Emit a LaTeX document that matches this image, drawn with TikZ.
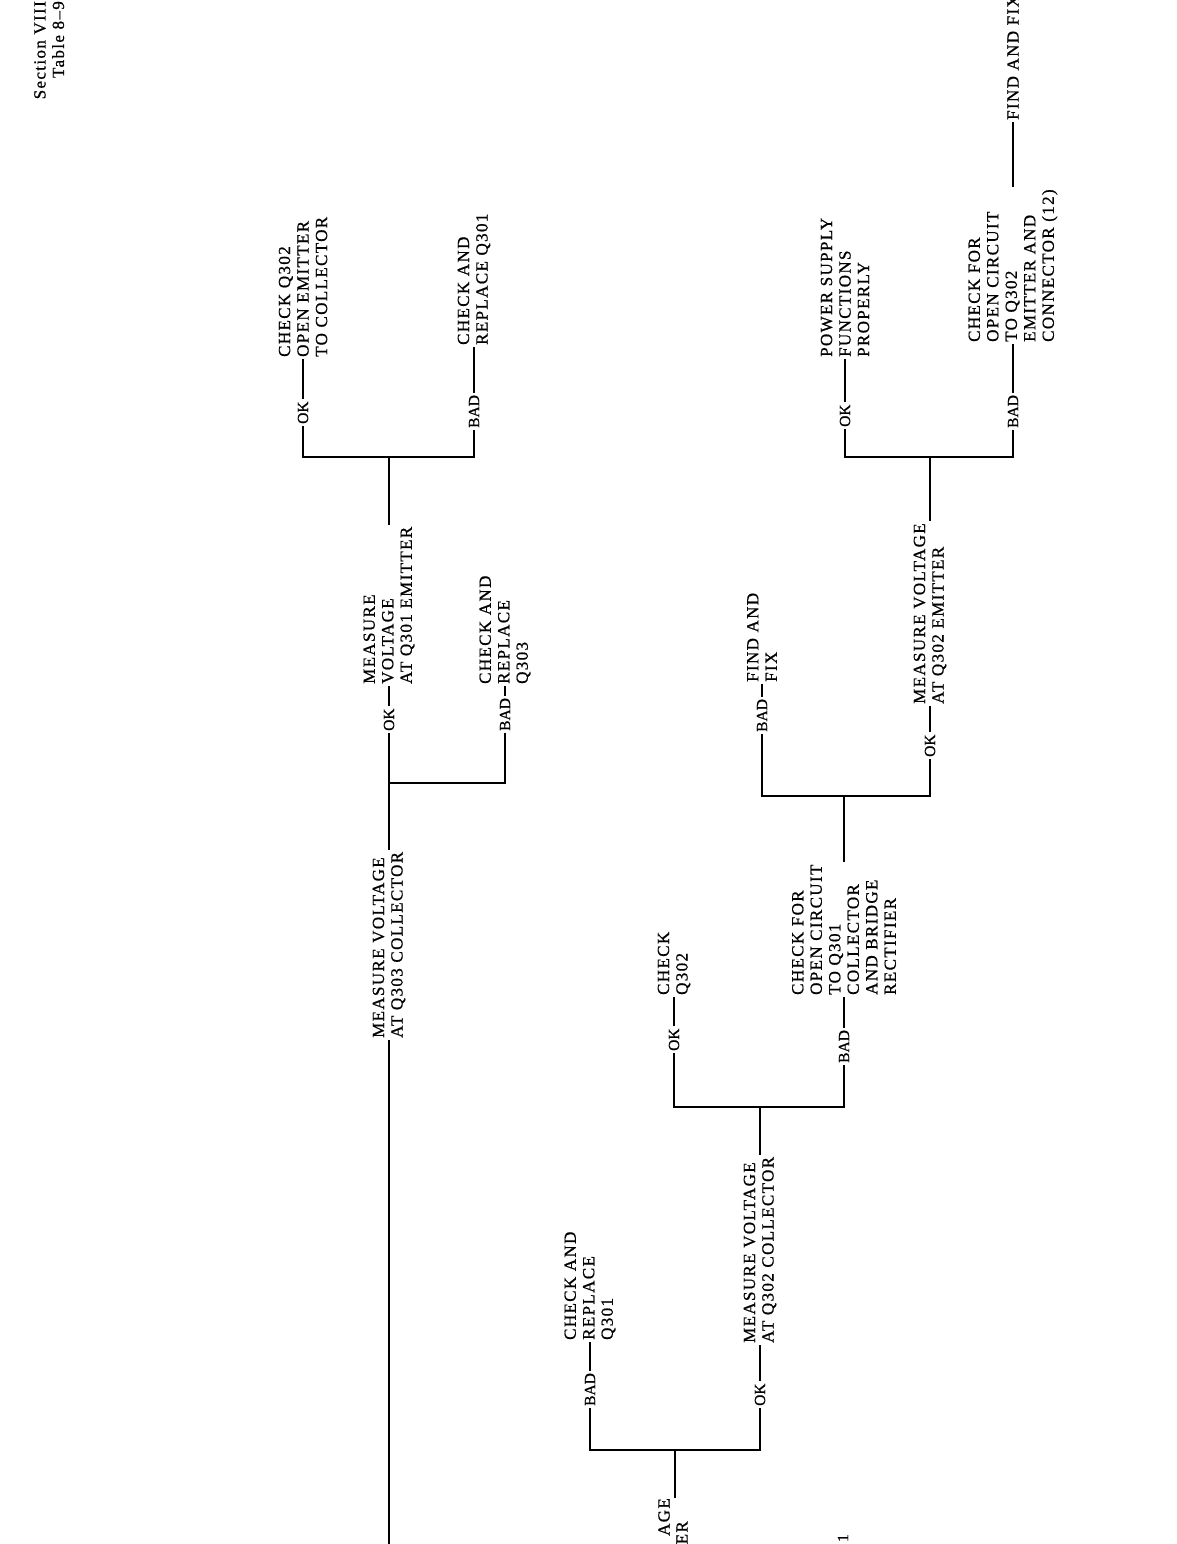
\documentclass[tikz,border=0pt]{standalone}
\usepackage{fontspec}
\setmainfont{Liberation Serif}[LetterSpace=8,FakeBold=0.8]
\begin{document}
\begin{tikzpicture}[x=1pt,y=-1pt,
  txt/.style={rotate=90, anchor=west, align=left, inner sep=2pt, font=\fontsize{17}{18.5}\selectfont},
  lbl/.style={rotate=90, anchor=west, inner sep=2pt, font=\fontsize{15.5}{18.5}\selectfont\addfontfeature{LetterSpace=0}},
  frag/.style={rotate=90, anchor=east, inner sep=0pt, font=\fontsize{17}{18.5}\selectfont},
  ln/.style={line width=2.8pt, line join=miter}]
\useasboundingbox (0,0) rectangle (1176,1544);
\clip (0,0) rectangle (1176,1544);

% header
\node[rotate=90, anchor=north east, align=right, inner sep=0pt, font=\fontsize{17}{18.5}\selectfont] (hdr) at (34,1) {Section VIII\\Table 8--9};

% trunk and Q303 collector
\coordinate (bot) at (389,1550);
\node[txt] (q303c) at (389,1040) {MEASURE VOLTAGE\\AT Q303 COLLECTOR};
\draw[ln] (bot) -- (q303c.west);
\coordinate (f1) at (389,783);
\node[lbl] (ok1) at (389,733) {OK};
\node[lbl] (bad1) at (505,733) {BAD};
\draw[ln] (q303c.east) -- (ok1.west);
\draw[ln] (f1) -- (f1 -| bad1.west) -- (bad1.west);
\node[txt] (t1) at (389,686) {MEASURE\\VOLTAGE\\AT Q301 EMITTER};
\node[txt] (t2) at (505,686) {CHECK AND\\REPLACE\\Q303};
\draw[ln] (ok1.east) -- (t1.west);
\draw[ln] (bad1.east) -- (t2.west);

% fork F2
\coordinate (f2) at (389,457);
\draw[ln] (t1.east) -- (f2);
\node[lbl] (ok2) at (303,426) {OK};
\node[lbl] (bad2) at (474,430) {BAD};
\draw[ln] (ok2.west) -- (ok2.west |- f2) -- (bad2.west |- f2) -- (bad2.west);
\node[txt] (t3) at (303,359) {CHECK Q302\\OPEN EMITTER\\TO COLLECTOR};
\node[txt] (t4) at (474,347) {CHECK AND\\REPLACE Q301};
\draw[ln] (ok2.east) -- (t3.west);
\draw[ln] (bad2.east) -- (t4.west);

% bottom-left fork F3
\node[frag] (fa) at (664,1498) {AGE};
\node[frag] (fb) at (682,1521) {ER};
\coordinate (f3) at (675,1450);
\draw[ln] (f3 |- fa.east) -- (f3);
\node[lbl] (bad3) at (590,1408) {BAD};
\node[lbl] (ok3) at (760,1408) {OK};
\draw[ln] (bad3.west) -- (bad3.west |- f3) -- (ok3.west |- f3) -- (ok3.west);
\node[txt] (t5) at (590,1342) {CHECK AND\\REPLACE\\Q301};
\node[txt] (t6) at (760,1345) {MEASURE VOLTAGE\\AT Q302 COLLECTOR};
\draw[ln] (bad3.east) -- (t5.west);
\draw[ln] (ok3.east) -- (t6.west);

% fork F4
\coordinate (f4) at (760,1107);
\draw[ln] (t6.east) -- (f4);
\node[lbl] (ok4) at (674,1053) {OK};
\node[lbl] (bad4) at (844,1065) {BAD};
\draw[ln] (ok4.west) -- (ok4.west |- f4) -- (bad4.west |- f4) -- (bad4.west);
\node[txt] (t7) at (674,997) {CHECK\\Q302};
\node[txt] (t8) at (844,997) {CHECK FOR\\OPEN CIRCUIT\\TO Q301\\COLLECTOR\\AND BRIDGE\\RECTIFIER};
\draw[ln] (ok4.east) -- (t7.west);
\draw[ln] (bad4.east) -- (t8.west);

% fork F5
\coordinate (f5) at (844,796);
\draw[ln] (t8.east) -- (f5);
\node[lbl] (bad5) at (762,734) {BAD};
\node[lbl] (ok5) at (930,759) {OK};
\draw[ln] (bad5.west) -- (bad5.west |- f5) -- (ok5.west |- f5) -- (ok5.west);
\node[txt] (t9) at (762,684) {FIND AND\\FIX};
\node[txt] (t10) at (930,706) {MEASURE VOLTAGE\\AT Q302 EMITTER};
\draw[ln] (bad5.east) -- (t9.west);
\draw[ln] (ok5.east) -- (t10.west);

% fork F6
\coordinate (f6) at (930,457);
\draw[ln] (t10.east) -- (f6);
\node[lbl] (ok6) at (845,429) {OK};
\node[lbl] (bad6) at (1013,430) {BAD};
\draw[ln] (ok6.west) -- (ok6.west |- f6) -- (bad6.west |- f6) -- (bad6.west);
\node[txt] (t11) at (845,359) {POWER SUPPLY\\FUNCTIONS\\PROPERLY};
\node[txt] (t12) at (1013,344) {CHECK FOR\\OPEN CIRCUIT\\TO Q302\\EMITTER AND\\CONNECTOR (12)};
\draw[ln] (ok6.east) -- (t11.west);
\draw[ln] (bad6.east) -- (t12.west);
\node[txt] (t13) at (1013,122) {FIND AND FIX};
\draw[ln] (t12.east) -- (t13.west);

% page number fragment
\node[lbl, anchor=center] (pg) at (843,1538) {1};
\end{tikzpicture}
\end{document}
